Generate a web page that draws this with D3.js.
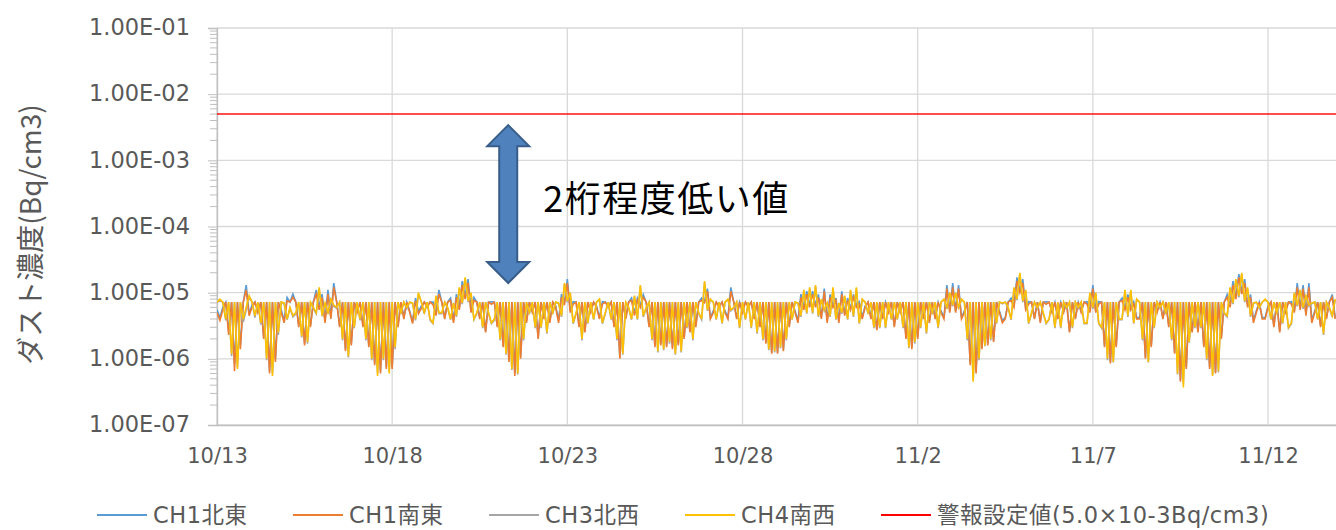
<!DOCTYPE html>
<html>
<head>
<meta charset="utf-8">
<script src="https://cdn.jsdelivr.net/npm/d3@7"></script>
<style>
  body { margin: 0; background: #fff; }
  svg { display: block; }
</style>
</head>
<body>
<svg id="chart" width="1336" height="530"></svg>
<script>
// Dust concentration, 2-hour readings from 10/13 00:00, in units of 1e-6 Bq/cm3.
// D marks a reading reported at the detection limit.
const D = 7.2;
const UNIT = 1e-6;
const startTime = Date.UTC(2018, 9, 13);
const stepHours = 2;

const ch1NorthEast = [
  5.5,4.2,6,D,2.6,D,0.85,D,1.6,D,13,4.8,
  6.5,D,5.3,D,2.1,D,0.65,D,1,D,5.5,3.8,
  8.5,D,9.5,D,3.2,D,1.7,D,3.2,D,11,6.2,
  9.5,3.8,11,4.3,14,D,3.2,D,1.4,D,1.7,D,
  5.4,D,3.2,D,1.6,D,0.85,D,0.65,D,0.75,D,
  0.75,D,3.2,D,4.3,D,5.3,3.6,8.3,5.2,6.3,D,
  6.4,D,7.2,4.8,11,D,4.2,D,8.3,3.8,9.5,6,
  15,9,16,5.5,8.5,D,4.2,D,2.6,D,7.3,D,
  3.2,D,1.6,D,0.95,D,0.6,D,1.1,D,3.7,D,
  5.3,D,2.1,D,4.2,D,3.7,D,6.4,3.8,9.5,7,
  16,5.3,7.3,D,3.2,D,2.6,D,5.3,D,6.3,4.2,
  7.3,D,6.3,D,3.2,D,1.05,D,4.2,D,8.3,4.8,
  8.3,6.5,9.4,D,3.2,D,1.6,D,1.7,D,1.6,D,
  1.5,D,1.7,D,2.1,D,2.6,D,3.2,D,8.3,7.5,
  11.5,4.2,5.3,D,6.3,D,5.3,4.2,12,D,4.2,D,
  5.3,D,6.3,D,4.2,D,3.2,D,1.8,D,1.25,D,
  1.25,D,1.4,D,3.2,D,5.3,3.8,9.5,6,10.5,6.5,
  10.5,6.5,9.4,4.2,11.5,3.8,9.4,6.3,8.3,3.8,10.5,4.8,
  8.3,5.8,9.4,6.5,7.3,4.3,6.3,D,4.2,D,2.8,D,
  4.2,D,5.3,D,3.2,D,5.3,D,2.1,D,1.5,D,
  2.1,D,4.2,D,3.7,D,4.2,D,5.3,4.2,13,5.3,
  14,5.3,13,4.2,5.3,D,0.85,D,0.65,D,1.5,D,
  1.7,D,1.9,D,5.3,3.8,4.2,D,8.3,6.5,17,11,
  16,5.8,7.3,D,4.2,D,3.7,D,7.3,D,5.3,D,
  4.2,D,5.3,D,2.6,D,4.2,D,5.3,D,7.3,5.3,
  13,5.3,7.3,D,1.6,D,0.9,D,1.6,D,8.3,5.8,
  9.4,5.8,7.3,4.2,4.2,D,1.05,D,1.6,D,5.3,D,
  4.2,D,3.2,D,1.25,D,0.48,D,0.75,D,2.6,D,
  2.6,D,1.6,D,0.75,D,0.63,D,2.1,D,9.4,6.5,
  15,8.5,19,10.5,16,6.5,9.4,3.8,5.3,D,4.2,4.2,
  6.3,D,3.2,D,2.6,D,5.3,D,7.3,5.3,14,5.8,
  13,4.8,14,3.8,5.3,D,3.2,D,4.2,D,9.4,4.2
];

const ch1SouthEast = [
  5,3.8,5.5,D,2.3,D,0.65,D,1.4,D,11,4.5,
  6,D,5,D,2,D,0.6,D,0.9,D,5,3.5,
  7.5,D,8.5,D,3,D,1.6,D,3,D,9.5,5.5,
  8.5,3.5,9.5,4,12,D,3,D,1.3,D,1.6,D,
  5,D,3,D,1.5,D,0.8,D,0.6,D,0.7,D,
  0.7,D,3,D,4,D,5,3.4,7.5,4.8,5.8,D,
  6,D,6.6,4.5,9.5,D,4,D,7.6,3.5,8.5,5.5,
  13,8,14,5,7.6,D,4,D,2.5,D,6.7,D,
  3,D,1.5,D,0.9,D,0.55,D,1,D,3.5,D,
  5,D,2,D,4,D,3.5,D,6,3.5,8.5,6.5,
  14,5,6.7,D,3,D,2.5,D,5,D,6,4,
  6.7,D,6,D,3,D,1,D,4,D,7.6,4.5,
  7.6,6,8.5,D,3,D,1.5,D,1.6,D,1.5,D,
  1.4,D,1.6,D,2,D,2.5,D,3,D,7.6,7,
  10.5,4,5,D,6,D,5,4,10.5,D,4,D,
  5,D,6,D,4,D,3,D,1.7,D,1.2,D,
  1.2,D,1.3,D,3,D,5,3.5,8.5,5.5,9.5,6,
  9.5,6,8.5,4,10.5,3.5,8.5,6,7.6,3.5,9.5,4.5,
  7.6,5.5,8.5,6,6.7,4,6,D,4,D,2.7,D,
  4,D,5,D,3,D,5,D,2,D,1.4,D,
  2,D,4,D,3.5,D,4,D,5,4,11.5,5,
  12,5,11.5,4,5,D,0.8,D,0.6,D,1.4,D,
  1.6,D,1.8,D,5,3.5,4,D,7.6,6,15,10,
  14,5.5,6.7,D,4,D,3.5,D,6.7,D,5,D,
  4,D,5,D,2.5,D,4,D,5,D,6.7,5,
  11.5,5,6.7,D,1.5,D,0.85,D,1.5,D,7.6,5.5,
  8.5,5.5,6.7,4,4,D,1,D,1.5,D,5,D,
  4,D,3,D,1.2,D,0.45,D,0.7,D,2.5,D,
  2.5,D,1.5,D,0.7,D,0.6,D,2,D,8.5,6,
  13,8,17,9.5,14,6,8.5,3.5,5,D,4,4,
  6,D,3,D,2.5,D,5,D,6.7,5,12,5.5,
  11.5,4.5,12,3.5,5,D,3,D,4,D,8.5,4
];

const ch3NorthWest = [
  D,7.5,D,3.8,D,1.1,D,0.75,D,3.6,5.5,8.5,
  D,4.2,D,3.3,D,0.95,D,0.6,D,2.3,D,6.8,
  3.9,5.8,4.3,4.8,D,2.1,D,1.7,D,5.7,4.8,11.5,
  4.4,6.9,4.8,7.8,6.2,5.8,D,1.9,D,1.05,D,2.9,
  D,3.8,D,1.9,D,0.95,D,0.6,D,0.95,D,0.65,
  D,1.4,D,4.8,D,5.7,D,6.8,3.8,9.6,D,4.8,
  D,3.8,3.4,8.7,4.8,4.8,D,5.8,3.9,6.8,4.3,11.5,
  6.7,16.5,7.2,9.7,3.9,4.8,D,2.9,D,4.8,3.4,3.8,
  D,1.9,D,1.15,D,0.68,D,0.58,D,1.9,D,4.8,
  D,2.9,D,2.9,D,2.4,D,4.8,D,6.8,4.3,13.5,
  7.2,9.7,3.4,4.8,D,1.9,D,3.4,D,3.9,D,7.8,
  3.4,4.8,D,3.9,D,1.9,D,1.15,D,5.8,3.9,8.7,
  3.9,12.5,4.3,5.8,D,1.9,D,1.25,D,1.35,D,1.7,
  D,1.15,D,1.25,D,2.9,D,1.9,D,4.8,3.9,14.5,
  5.3,7.8,D,3.9,D,3.4,D,7.8,5.3,5.8,D,2.9,
  D,3.9,D,2.9,D,2.4,D,1.9,D,1.35,D,1.25,
  D,1.45,D,1.9,D,3.9,D,6.8,4.3,10.7,4.8,11.5,
  4.8,12.5,4.3,7.8,5.3,6.8,4.3,11.5,3.9,6.8,4.8,8.7,
  3.9,10.7,4.3,11.5,3.4,7.8,D,4.8,D,2.9,D,2.9,
  D,2.9,D,3.9,D,3.9,D,2.9,D,1.45,D,1.7,
  D,2.9,D,2.4,D,4.8,D,2.9,D,7.8,5.7,9.7,
  6.2,9.7,5.7,7.8,D,1.9,D,0.48,D,0.95,D,1.55,
  D,1.9,D,3.4,D,6.8,D,5.8,3.9,11.5,7.7,19.5,
  7.2,10.7,3.4,4.8,D,5.8,D,4.8,3.4,3.9,D,2.9,
  D,2.9,D,5.8,D,2.9,D,5.8,D,3.4,3.4,9.7,
  5.7,9.7,3.4,2.9,D,0.95,D,0.88,D,3.9,3.9,10.7,
  4.3,10.7,3.4,7.8,D,1.9,D,0.88,D,2.9,D,5.8,
  D,4.8,D,1.9,D,0.58,D,0.42,D,1.75,D,2.9,
  D,2.9,D,0.95,D,0.57,D,0.62,D,4.8,4.3,11.5,
  6.7,15.5,8.5,19,7.2,11.5,4.3,6.8,D,5.8,D,7.8,
  D,3.9,D,4.8,D,3.4,D,2.9,3.4,9.7,6.2,10.7,
  5.7,8.7,6.2,6.8,D,3.9,D,2.3,D,5.8,4.3,7.8
];

const ch4SouthWest = [
  D,8,D,4,D,1.2,D,0.7,D,4,6,9,
  D,4.5,D,3.5,D,1,D,0.55,D,2.5,D,7,
  4,6,4.5,5,D,2.2,D,1.8,D,6,5,12,
  4.5,7,5,8,6.5,6,D,2,D,1.1,D,3,
  D,4,D,2,D,1,D,0.55,D,1,D,0.6,
  D,1.5,D,5,D,6,D,7,4,10,D,5,
  D,4,3.5,9,5,5,D,6,4,7,4.5,12,
  7,17,7.5,10,4,5,D,3,D,5,3.5,4,
  D,2,D,1.2,D,0.7,D,0.6,D,2,D,5,
  D,3,D,3,D,2.5,D,5,D,7,4.5,14,
  7.5,10,3.5,5,D,2,D,3.5,D,4,D,8,
  3.5,5,D,4,D,2,D,1.2,D,6,4,9,
  4,13,4.5,6,D,2,D,1.3,D,1.4,D,1.8,
  D,1.2,D,1.3,D,3,D,2,D,5,4,15,
  5.5,8,D,4,D,3.5,D,8,5.5,6,D,3,
  D,4,D,3,D,2.5,D,2,D,1.4,D,1.3,
  D,1.5,D,2,D,4,D,7,4.5,11,5,12,
  5,13,4.5,8,5.5,7,4.5,12,4,7,5,9,
  4,11,4.5,12,3.5,8,D,5,D,3,D,3,
  D,3,D,4,D,4,D,3,D,1.5,D,1.8,
  D,3,D,2.5,D,5,D,3,D,8,6,10,
  6.5,10,6,8,D,2,D,0.45,D,1,D,1.6,
  D,2,D,3.5,D,7,D,6,4,12,8,20,
  7.5,11,3.5,5,D,6,D,5,3.5,4,D,3,
  D,3,D,6,D,3,D,6,D,3.5,3.5,10,
  6,10,3.5,3,D,1,D,0.9,D,4,4,11,
  4.5,11,3.5,8,D,2,D,0.9,D,3,D,6,
  D,5,D,2,D,0.6,D,0.37,D,1.8,D,3,
  D,3,D,1,D,0.55,D,0.65,D,5,4.5,12,
  7,16,9,20,7.5,12,4.5,7,D,6,D,8,
  D,4,D,5,D,3.5,D,3,3.5,10,6.5,11,
  6,9,6.5,7,D,4,D,2.4,D,6,4.5,8
];

const seriesNames = ["CH1北東", "CH1南東", "CH3北西", "CH4南西"];
const seriesData = [ch1NorthEast, ch1SouthEast, ch3NorthWest, ch4SouthWest];
const seriesColors = ["#5B9BD5", "#ED7D31", "#A5A5A5", "#FFC000"];

const alarmValue = 5.0e-3;
const alarmName = "警報設定値(5.0×10-3Bq/cm3)";
const alarmColor = "#FF0000";

const yTicks = [1e-1, 1e-2, 1e-3, 1e-4, 1e-5, 1e-6, 1e-7];
const xTickDates = ["2018-10-13", "2018-10-18", "2018-10-23", "2018-10-28", "2018-11-02", "2018-11-07", "2018-11-12"];
const yTitle = "ダスト濃度(Bq/cm3)";

// Callout: gap between the alarm level and the measured dust level
const calloutText = "2桁程度低い値";
const calloutTime = Date.UTC(2018, 9, 21, 7, 30);
const calloutTop = 3.4e-3;
const calloutBottom = 1.4e-5;

// ---- layout ----
const plot = { left: 217, right: 1336, top: 28, bottom: 425 };
const DAY = 86400000;

const svg = d3.select("#chart");
const x = d3.scaleUtc()
  .domain([startTime, startTime + 31.94 * DAY])
  .range([plot.left, plot.right]);
const y = d3.scaleLog()
  .domain([1e-7, 1e-1])
  .range([plot.bottom, plot.top]);

const gridColor = "#D9D9D9";
const textColor = "#595959";
const latinFont = "'DejaVu Sans', 'Noto Sans CJK JP', sans-serif";
const cjkFont = "'Noto Sans CJK JP', 'DejaVu Sans', sans-serif";

// gridlines
svg.append("g").selectAll("line").data(yTicks).join("line")
  .attr("x1", plot.left).attr("x2", plot.right)
  .attr("y1", d => y(d)).attr("y2", d => y(d))
  .attr("stroke", gridColor).attr("stroke-width", 1.3);

const xTicks = xTickDates.map(s => d3.utcParse("%Y-%m-%d")(s));
svg.append("g").selectAll("line").data(xTicks).join("line")
  .attr("x1", d => x(d)).attr("x2", d => x(d))
  .attr("y1", plot.top).attr("y2", plot.bottom)
  .attr("stroke", gridColor).attr("stroke-width", 1.3);

// left axis with minor log ticks
const yAxis = d3.axisLeft(y)
  .tickValues(yTicks)
  .tickSize(9)
  .tickFormat(v => {
    const e = Math.round(Math.log10(v));
    const sign = e < 0 ? "-" : "+";
    return "1.00E" + sign + String(Math.abs(e)).padStart(2, "0");
  });
const gy = svg.append("g").attr("transform", `translate(${plot.left},0)`).call(yAxis);
gy.select(".domain").attr("stroke", "#BFBFBF").attr("stroke-width", 1.3);
gy.selectAll(".tick line").attr("stroke", "#BFBFBF");
gy.selectAll(".tick text")
  .attr("x", -27).attr("dy", "0.3em")
  .attr("fill", textColor)
  .style("font-family", latinFont).style("font-size", "22.5px");

const minorTicks = [];
for (let e = -7; e < -1; e++) {
  for (let m = 2; m <= 9; m++) minorTicks.push(m * Math.pow(10, e));
}
svg.append("g").selectAll("line").data(minorTicks).join("line")
  .attr("x1", plot.left - 7).attr("x2", plot.left)
  .attr("y1", d => y(d)).attr("y2", d => y(d))
  .attr("stroke", "#BFBFBF").attr("stroke-width", 1);

// bottom axis
const xAxis = d3.axisBottom(x)
  .tickValues(xTicks)
  .tickSize(0)
  .tickFormat(d3.utcFormat("%-m/%-d"));
const gx = svg.append("g").attr("transform", `translate(0,${plot.bottom})`).call(xAxis);
gx.select(".domain").attr("stroke", "#BFBFBF").attr("stroke-width", 1.3);
gx.selectAll(".tick text")
  .attr("y", 23).attr("dy", "0.71em")
  .attr("fill", textColor)
  .style("font-family", latinFont).style("font-size", "21px");

// axis title
svg.append("text")
  .attr("transform", `translate(41,${(plot.top + plot.bottom) / 2 + 8}) rotate(-90)`)
  .attr("text-anchor", "middle")
  .attr("fill", textColor)
  .style("font-family", cjkFont).style("font-size", "28px")
  .text(yTitle);

// series
svg.append("clipPath").attr("id", "plotClip")
  .append("rect")
  .attr("x", plot.left).attr("y", plot.top)
  .attr("width", plot.right - plot.left).attr("height", plot.bottom - plot.top);

const line = d3.line()
  .x((d, i) => x(startTime + i * stepHours * 3600000))
  .y(d => y(d * UNIT));

const gs = svg.append("g").attr("clip-path", "url(#plotClip)");
seriesData.forEach((vals, k) => {
  gs.append("path")
    .datum(vals)
    .attr("d", line)
    .attr("fill", "none")
    .attr("stroke", seriesColors[k])
    .attr("stroke-width", 1.6)
    .attr("stroke-linejoin", "miter");
});

// alarm threshold
gs.append("line")
  .attr("x1", plot.left).attr("x2", plot.right)
  .attr("y1", y(alarmValue)).attr("y2", y(alarmValue))
  .attr("stroke", alarmColor).attr("stroke-opacity", 0.7).attr("stroke-width", 2);

// callout double arrow
const ax = x(calloutTime), yTop = y(calloutTop), yBot = y(calloutBottom);
const headHalf = 21, shaftHalf = 9, headLen = 21;
const arrowPts = [
  [ax, yTop], [ax + headHalf, yTop + headLen], [ax + shaftHalf, yTop + headLen],
  [ax + shaftHalf, yBot - headLen], [ax + headHalf, yBot - headLen], [ax, yBot],
  [ax - headHalf, yBot - headLen], [ax - shaftHalf, yBot - headLen],
  [ax - shaftHalf, yTop + headLen], [ax - headHalf, yTop + headLen]
];
svg.append("path")
  .attr("d", d3.line()(arrowPts) + "Z")
  .attr("fill", "#4F81BD")
  .attr("stroke", "#385D8A")
  .attr("stroke-width", 2)
  .attr("stroke-linejoin", "miter");

svg.append("text")
  .attr("x", ax + 35)
  .attr("y", (yTop + yBot) / 2 + 8)
  .attr("fill", "#000")
  .style("font-family", cjkFont).style("font-size", "36px")
  .style("letter-spacing", "1.5px")
  .text(calloutText);

// legend
const legendItems = seriesNames.map((n, i) => ({ name: n, color: seriesColors[i] }))
  .concat([{ name: alarmName, color: alarmColor }]);
const legendStart = 97, legendStep = 196, legendY = 515;
const lg = svg.append("g").selectAll("g").data(legendItems).join("g")
  .attr("transform", (d, i) => `translate(${legendStart + i * legendStep},${legendY})`);
lg.append("line")
  .attr("x1", 0).attr("x2", 50).attr("y1", 0).attr("y2", 0)
  .attr("stroke", d => d.color).attr("stroke-width", 2);
lg.append("text")
  .attr("x", 56).attr("dy", "0.36em")
  .attr("fill", textColor)
  .style("font-family", latinFont).style("font-size", "22.5px")
  .style("letter-spacing", "0.5px")
  .text(d => d.name);
</script>
</body>
</html>
